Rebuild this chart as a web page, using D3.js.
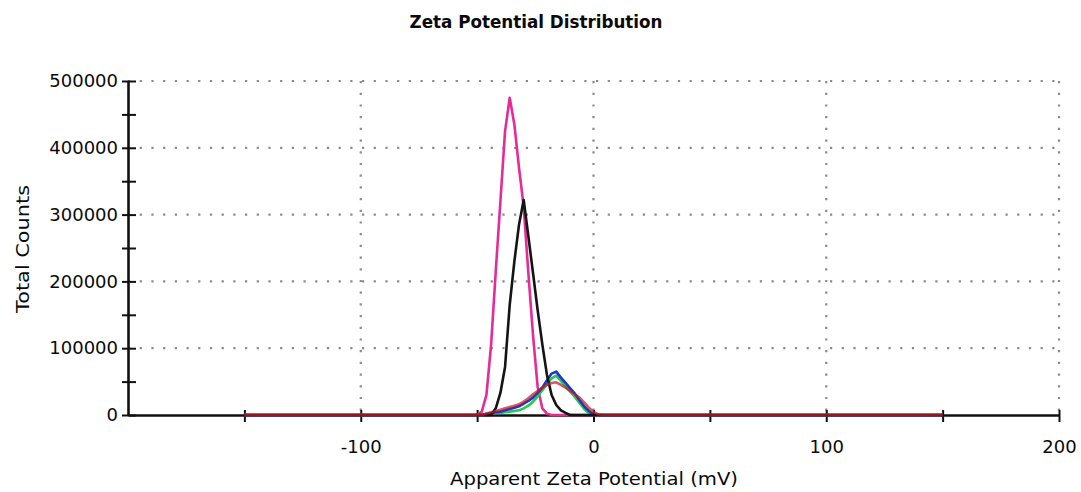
<!DOCTYPE html>
<html><head><meta charset="utf-8">
<script src="https://cdn.jsdelivr.net/npm/d3@7"></script>
<style>
body{margin:0;background:#fff}
text{font-family:"DejaVu Sans",sans-serif;fill:#0a0a0a}
</style>
</head><body>
<svg id="c" width="1081" height="492"></svg>
<script>
// Apparent zeta potential sample points (mV)
const potentials = [-150,-50,-48,-46,-44,-42,-40,-38,-36,-34,-32,-30,-28,-26,-24,-22,-20,-18,-16,-14,-12,-10,-8,-6,-4,-2,0,2,4,150];
// Total counts (thousands) per run
const runMagenta = [0,0,5,30,105,215,320,425,475,435,370,312,213,120,42,10,2,0,0,0,0,0,0,0,0,0,0,0,0,0];
const runBlack   = [0,0,0,0,0,10,33,72,165,230,285,322,268,213,157,106,60,30,15,7,3,0,0,0,0,0,0,0,0,0];
const runBlue    = [0,0,0,2,3,4,5,7,9,11,13,17,21,26,33,41,52,62,65,56,48,40,32,22,13,6,1,0,0,0];
const runGreen   = [0,0,0,1,2,3,3,4,5,6,7,10,14,20,28,37,46,55,59,51,43,35,27,18,9,3,0,0,0,0];
const runRed     = [0,0,0,2,4,6,8,10,12,14,16,20,25,31,36,41,45,48,49,45,41,36,31,26,19,11,5,1,0,0];

const xTicks = [-150,-100,-50,0,50,100,150,200];
const xLabels = [-100,0,100,200];
const yTicks = [0,50000,100000,150000,200000,250000,300000,350000,400000,450000,500000];
const yLabels = [0,100000,200000,300000,400000,500000];
const gridX = [-100,0,100,200];
const gridY = [100000,200000,300000,400000,500000];

const series = [
  {name:"magenta", values:runMagenta, color:"#e62b95", op:1},
  {name:"green", values:runGreen, color:"#25c850", op:1},
  {name:"blue", values:runBlue, color:"#1d35c8", op:1},
  {name:"black", values:runBlack, color:"#141414", op:1},
  {name:"red", values:runRed, color:"#c81626", op:0.72}
];

const svg = d3.select("#c");
const x = d3.scaleLinear().domain([-200,200]).range([128,1059]);
const y = d3.scaleLinear().domain([0,500000]).range([415,81]);

// grid
svg.append("g").selectAll("line").data(gridX).join("line")
  .attr("x1",d=>x(d)).attr("x2",d=>x(d)).attr("y1",y(500000)).attr("y2",y(0))
  .attr("stroke","#8a8a8a").attr("stroke-width",2.2).attr("stroke-dasharray","2.2,9.5");
svg.append("g").selectAll("line").data(gridY).join("line")
  .attr("x1",x(-200)).attr("x2",x(200)).attr("y1",d=>y(d)).attr("y2",d=>y(d))
  .attr("stroke","#8a8a8a").attr("stroke-width",2.2).attr("stroke-dasharray","2.2,9.5");

// axes
svg.append("g").attr("transform",`translate(0,${y(0)})`)
  .call(d3.axisBottom(x).tickValues(xTicks).tickSize(7).tickSizeOuter(0).tickPadding(18)
    .tickFormat(d=>xLabels.includes(d)?d:""));
svg.append("g").attr("transform",`translate(0,${y(0)})`)
  .call(d3.axisTop(x).tickValues(xTicks).tickSize(5).tickSizeOuter(0).tickFormat(""))
  .call(g=>g.select(".domain").remove());
svg.append("g").attr("transform",`translate(${x(-200)},0)`)
  .call(d3.axisLeft(y).tickValues(yTicks).tickSize(6).tickSizeOuter(0).tickPadding(4)
    .tickFormat(d=>yLabels.includes(d)?d:""));
svg.append("g").attr("transform",`translate(${x(-200)},0)`)
  .call(d3.axisRight(y).tickValues(yTicks).tickSize(8).tickSizeOuter(0).tickFormat(""))
  .call(g=>g.select(".domain").remove());

svg.selectAll(".domain").attr("stroke","#111").attr("stroke-width",2.6);
svg.selectAll(".tick line").attr("stroke","#111").attr("stroke-width",2);
svg.selectAll(".tick text").attr("font-size",18).attr("font-family","DejaVu Sans").attr("fill","#0a0a0a");

// series (drawn over the axis line)
const line = d3.line().x((d,i)=>x(potentials[i])).y(d=>y(d*1000));
svg.append("g").selectAll("path").data(series).join("path")
  .attr("d",d=>line(d.values))
  .attr("fill","none").attr("stroke",d=>d.color).attr("stroke-opacity",d=>d.op)
  .attr("stroke-width",2.6).attr("stroke-linejoin","round");

// titles
svg.append("text").attr("x",536).attr("y",28).attr("text-anchor","middle")
  .attr("font-size",17).attr("font-weight","bold")
  .attr("textLength",253).attr("lengthAdjust","spacingAndGlyphs")
  .text("Zeta Potential Distribution");
svg.append("text").attr("x",594).attr("y",485).attr("text-anchor","middle")
  .attr("font-size",18).attr("textLength",288).attr("lengthAdjust","spacingAndGlyphs")
  .text("Apparent Zeta Potential (mV)");
svg.append("text").attr("transform","translate(29,249) rotate(-90)").attr("text-anchor","middle")
  .attr("font-size",18).attr("textLength",128).attr("lengthAdjust","spacingAndGlyphs")
  .text("Total Counts");
</script>
</body></html>
